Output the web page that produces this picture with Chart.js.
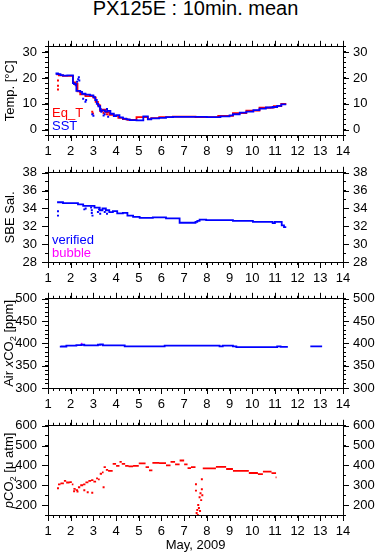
<!DOCTYPE html>
<html><head><meta charset="utf-8">
<script src="https://cdn.jsdelivr.net/npm/chart.js@4/dist/chart.umd.min.js"></script>
<style>
html,body{margin:0;padding:0;background:#fff}
body{width:378px;height:558px;position:relative;overflow:hidden;font-family:"Liberation Sans",Arial,sans-serif}
canvas{position:absolute;left:0}
#title{position:absolute;left:48px;width:295px;top:-3px;text-align:center;font-size:20px;color:#000;white-space:nowrap}
</style></head><body>
<div id="title">PX125E : 10min. mean</div>
<canvas id="c1" width="378" height="130" style="top:31px"></canvas>
<canvas id="c2" width="378" height="131" style="top:157px"></canvas>
<canvas id="c3" width="378" height="131" style="top:283px"></canvas>
<canvas id="c4" width="378" height="148" style="top:410px"></canvas>
<script>
// ---------- DATA ----------
const xMajor = [1,2,3,4,5,6,7,8,9,10,11,12,13,14];
const tempMajor = [0,10,20,30];
const salMajor = [28,30,32,34,36,38];
const airMajor = [300,350,400,450,500];
const pco2Major = [200,300,400,500,600];

// Temperature: SST (blue)
const sstDay = [1.37,1.44,1.55,1.66,1.85,2.10,2.15,2.25,2.42,2.50,2.65,2.85,3.00,3.08,3.15,3.22,3.30,3.38,3.50,3.62,3.75,3.90,4.00,4.15,4.30,4.45,4.60,4.90,5.20,5.40,5.55,5.90,6.20,6.50,7.00,8.00,8.60,9.00,9.15,9.45,9.74,10.05,10.32,10.60,10.90,11.10,11.28,11.50];
const sstVal = [21.2,21.7,21.5,21.1,20.9,21.0,18.0,17.6,15.0,14.6,13.9,13.6,13.3,12.6,11.5,10.0,9.0,7.5,7.5,7.0,7.3,6.2,5.3,5.7,4.8,4.3,4.0,3.7,3.6,5.2,4.0,4.4,4.6,4.9,5.0,5.0,4.9,5.2,5.6,6.0,6.6,7.0,7.6,8.2,8.6,8.8,9.2,9.8];
const sstDotDay = [2.22,2.28,2.33,2.36,2.38,2.55,2.65,2.68,2.95,3.00,3.28,3.32,3.35,3.45,3.50,3.60,3.65];
const sstDotVal = [17.5,18.5,19.5,20.3,19.0,12.0,10.8,11.5,6.0,5.4,9.0,8.0,7.0,5.5,6.0,8.0,5.0];
// Temperature: Eq_T (red)
const eqDay = [1.40,1.48,1.66,2.10,2.15,2.30,2.42,2.65,3.00,3.10,3.20,3.30,3.40,3.55,3.70,3.90,4.10,4.30,4.50,4.90,5.40,5.55,5.90,6.50,7.50,8.50,9.15,9.74,10.32,10.80,10.95,11.28,11.50];
const eqVal = [21.0,21.4,21.0,20.8,18.2,17.8,14.8,13.7,13.0,12.4,10.8,9.4,7.2,7.8,6.8,5.8,5.4,4.6,4.1,3.8,4.9,4.1,4.5,4.9,5.1,4.9,5.4,6.4,7.4,8.5,8.6,9.1,10.0];
const eqDotDay = [1.44,1.44,1.44,2.20,2.22,2.95,2.98,3.25,3.30,3.45,3.60,3.05];
const eqDotVal = [19.0,17.0,15.5,18.2,17.2,7.0,6.3,9.5,8.0,6.5,6.0,12.5];

// Salinity (verified, blue)
const salDay = [1.44,1.66,2.32,2.55,3.05,3.28,3.40,3.55,3.70,3.86,4.05,4.30,4.50,4.75,5.04,5.62,6.20,6.80,7.50,7.58,7.68,7.97,9.15,10.03,10.60,10.90,11.00,11.10,11.30,11.40,11.50];
const salVal = [34.6,34.7,34.6,34.45,34.3,34.1,33.8,34.0,33.8,33.6,33.7,33.45,33.5,33.2,33.05,32.95,33.0,32.9,32.4,32.5,32.6,32.75,32.7,32.6,32.5,32.5,32.35,32.5,32.5,32.1,31.9];
const salDotDay = [1.44,1.44,2.60,2.66,2.90,2.93,2.93,2.96,3.20,3.25,3.30,3.50,3.60];
const salDotVal = [33.7,33.2,33.9,34.0,34.1,33.8,33.5,33.2,33.6,33.9,33.4,33.6,33.4];

// Air xCO2 (blue) and bubble (magenta)
const airDay = [1.56,1.81,2.25,2.47,2.60,3.20,3.30,3.42,4.38,6.14,8.56,8.70,9.15,9.30,11.10,11.25,11.40,11.57];
const airVal = [394.5,393,395,396,397,395.5,397,397.5,395.5,393.5,395,393.5,395,393.5,391.5,393.5,392,392];
const air2Day = [12.56,13.08];
const air2Val = [393.5,393.5];
const airBubDay = [2.47,2.50];
const airBubVal = [401,398];

// pCO2 (red) horizontal runs: start day, end day, value
const pco2Start = [1.44,1.55,1.70,1.80,1.95,2.05,2.12,2.22,2.32,2.42,2.55,2.65,2.78,2.90,3.00,3.12,3.20,3.28,3.38,3.45,3.55,3.65,3.85,4.00,4.15,4.25,4.40,4.55,4.75,5.00,5.30,5.45,5.60,5.90,6.20,6.40,6.60,6.80,7.00,7.15,7.30,7.82,8.40,8.85,9.15,9.85,10.25,10.47,10.85,11.03];
const pco2End   = [1.55,1.70,1.80,1.95,2.05,2.12,2.22,2.32,2.42,2.55,2.65,2.78,2.90,3.00,3.12,3.20,3.28,3.38,3.45,3.55,3.65,3.85,4.00,4.15,4.25,4.40,4.55,4.75,5.00,5.30,5.45,5.60,5.90,6.20,6.40,6.60,6.80,7.00,7.15,7.30,7.50,8.40,8.85,9.15,9.85,10.25,10.47,10.85,11.05,11.07];
const pco2Val   = [305,310,322,314,316,305,282,275,290,300,305,315,322,326,318,335,330,358,365,392,378,373,408,398,418,408,398,395,398,410,392,375,413,412,400,418,405,425,405,386,392,385,393,382,373,362,356,369,361,340];
const pco2DotDay = [1.44,2.15,2.30,2.60,2.75,2.95,3.45,7.52,7.52,7.55,7.58,7.60,7.62,7.65,7.68,7.70,7.72,7.75,7.78,7.78,7.80];
const pco2DotVal = [285,270,268,275,265,262,290,305,273,160,175,150,200,185,240,170,260,225,330,280,250];

// ---------- HELPERS ----------
const FONT = '"Liberation Sans", Arial, sans-serif';
Chart.defaults.font.family = FONT;
Chart.defaults.font.size = 13;
Chart.defaults.color = '#000';

const MINOR_TL = 3, MAJOR_TL = 6;
const zip = (xs, ys) => xs.map((x,i)=>({x:x, y:ys[i]}));
function runs(s,e,v){ const out=[]; s.forEach((d,i)=>{ out.push({x:d,y:v[i]}); out.push({x:e[i],y:v[i]}); out.push({x:e[i],y:null}); }); return out; }
function stepTicks(min,max,step){ const t=[]; for(let v=min; v<=max+1e-9; v+=step) t.push({value:+v.toFixed(4)}); return t; }

function xAxis(pos, labels, h, title){
  return {
    type:'linear', position:pos, min:1, max:14, majors:xMajor,
    afterBuildTicks:s=>{ s.ticks = stepTicks(1,14,0.25); },
    ticks:{display:labels, autoSkip:false, maxRotation:0, minRotation:0, padding:6,
      callback:v=> xMajor.includes(v)? String(v) : ''},
    grid:{drawOnChartArea:false, tickLength:MINOR_TL, color:'#000', tickColor:'#000'},
    border:{display:true, color:'#000', width:1},
    title: title ? {display:true, text:title, padding:{top:0,bottom:5}, font:{size:13}} : {display:false},
    afterFit:s=>{ s.height = h; }
  };
}
function yAxis(pos, min, max, step, majors, w, pad){
  return {
    type:'linear', position:pos, min:min, max:max, majors:majors,
    afterBuildTicks:s=>{ s.ticks = stepTicks(min,max,step); },
    ticks:{autoSkip:false, padding:pad, callback:v=> majors.includes(v)? String(v) : ''},
    grid:{drawOnChartArea:false, tickLength:MINOR_TL, color:'#000', tickColor:'#000'},
    border:{display:true, color:'#000', width:1},
    afterFit:s=>{ s.width = w; }
  };
}

// longer tick marks at the major (labelled) values
const majorTicks = {
  id:'majorTicks',
  afterDraw(chart){
    const ctx = chart.ctx, a = chart.chartArea;
    ctx.save(); ctx.strokeStyle = '#000'; ctx.lineWidth = 1; ctx.beginPath();
    Object.values(chart.scales).forEach(s=>{
      const m = s.options.majors || [];
      m.forEach(v=>{
        const p = Math.round(s.getPixelForValue(v)) + 0.5;
        if (s.position==='bottom'){ ctx.moveTo(p, a.bottom); ctx.lineTo(p, a.bottom+MAJOR_TL); }
        if (s.position==='top'){ ctx.moveTo(p, a.top); ctx.lineTo(p, a.top-MAJOR_TL); }
        if (s.position==='left'){ ctx.moveTo(a.left, p); ctx.lineTo(a.left-MAJOR_TL, p); }
        if (s.position==='right'){ ctx.moveTo(a.right, p); ctx.lineTo(a.right+MAJOR_TL, p); }
      });
    });
    ctx.stroke(); ctx.restore();
  }
};

const annot = {
  id:'annot',
  afterDraw(chart, args, o){
    const ctx = chart.ctx, a = chart.chartArea;
    if (o.ytitle){
      ctx.save();
      ctx.translate(o.tx, (a.top+a.bottom)/2 + (o.dy||0));
      ctx.rotate(-Math.PI/2);
      const fs = 13;
      const fnt = s => (s.it?'italic ':'') + (s.sub? (fs*0.72)+'px ' : fs+'px ') + FONT;
      let tot = 0;
      o.ytitle.forEach(s=>{ ctx.font = fnt(s); s.w = ctx.measureText(s.t).width; tot += s.w; });
      let x = -tot/2;
      ctx.fillStyle = '#000'; ctx.textBaseline = 'alphabetic';
      o.ytitle.forEach(s=>{ ctx.font = fnt(s); ctx.fillText(s.t, x, s.sub? 3 : 0); x += s.w; });
      ctx.restore();
    }
    (o.labels||[]).forEach(l=>{
      ctx.save(); ctx.font = '13px '+FONT; ctx.fillStyle = l.c; ctx.textBaseline='alphabetic';
      ctx.fillText(l.t, a.left + 4, l.y - chart.canvas.offsetTop);
      ctx.restore();
    });
  }
};

function lineDs(data, color, extra){ return Object.assign({type:'line', data:data, borderColor:color, backgroundColor:color, borderWidth:1.8, pointRadius:0, stepped:'after', spanGaps:false, fill:false}, extra||{}); }
function dotDs(data, color){ return {type:'scatter', data:data, showLine:false, pointStyle:'rect', pointRadius:1.4, pointBorderWidth:0, backgroundColor:color, borderColor:color}; }

function make(id, datasets, yMin, yMax, yStep, yMajors, xh, xTitle, ann){
  return new Chart(document.getElementById(id), {
    data:{datasets:datasets},
    options:{
      responsive:false, animation:false, devicePixelRatio:1,
      layout:{padding:0},
      plugins:{legend:{display:false}, tooltip:{enabled:false}, annot:ann},
      scales:{
        x: xAxis('bottom', true, xh, xTitle),
        x2: xAxis('top', false, 12),
        y: yAxis('left', yMin, yMax, yStep, yMajors, 48, 8),
        y2: yAxis('right', yMin, yMax, yStep, yMajors, 35, 7)
      }
    },
    plugins:[annot, majorTicks]
  });
}

make('c1', [
  lineDs(zip(sstDay,sstVal), '#0000ff'),
  dotDs(zip(sstDotDay,sstDotVal), '#0000ff'),
  lineDs(zip(eqDay,eqVal), '#ff0000'),
  dotDs(zip(eqDotDay,eqDotVal), '#ff0000')
], -2, 32, 2, tempMajor, 26, null,
 {tx:14, ytitle:[{t:'Temp. [°C]'}], labels:[{t:'Eq_T',c:'#ff0000',y:117},{t:'SST',c:'#0000ff',y:130}]});

make('c2', [
  lineDs(zip(salDay,salVal), '#0000ff'),
  dotDs(zip(salDotDay,salDotVal), '#0000ff')
], 28, 38, 1, salMajor, 26, null,
 {tx:14, ytitle:[{t:'SBE Sal.'}], labels:[{t:'verified',c:'#0000ff',y:244},{t:'bubble',c:'#ff00ff',y:257}]});

make('c3', [
  lineDs(zip(airDay,airVal), '#0000ff'),
  lineDs(zip(air2Day,air2Val), '#0000ff'),
  lineDs(zip(airBubDay,airBubVal), '#ff00ff', {stepped:false, borderWidth:1.5})
], 300, 500, 10, airMajor, 26, null,
 {tx:13, ytitle:[{t:'Air '},{t:'x',it:true},{t:'CO'},{t:'2',sub:true},{t:' [ppm]'}]});

make('c4', [
  lineDs(runs(pco2Start,pco2End,pco2Val), '#ff0000', {stepped:false}),
  dotDs(zip(pco2DotDay,pco2DotVal), '#ff0000')
], 150, 600, 50, pco2Major, 43, 'May, 2009',
 {tx:13, ytitle:[{t:'p',it:true},{t:'CO'},{t:'2',sub:true},{t:' [μ atm]'}]});
</script>
</body></html>
